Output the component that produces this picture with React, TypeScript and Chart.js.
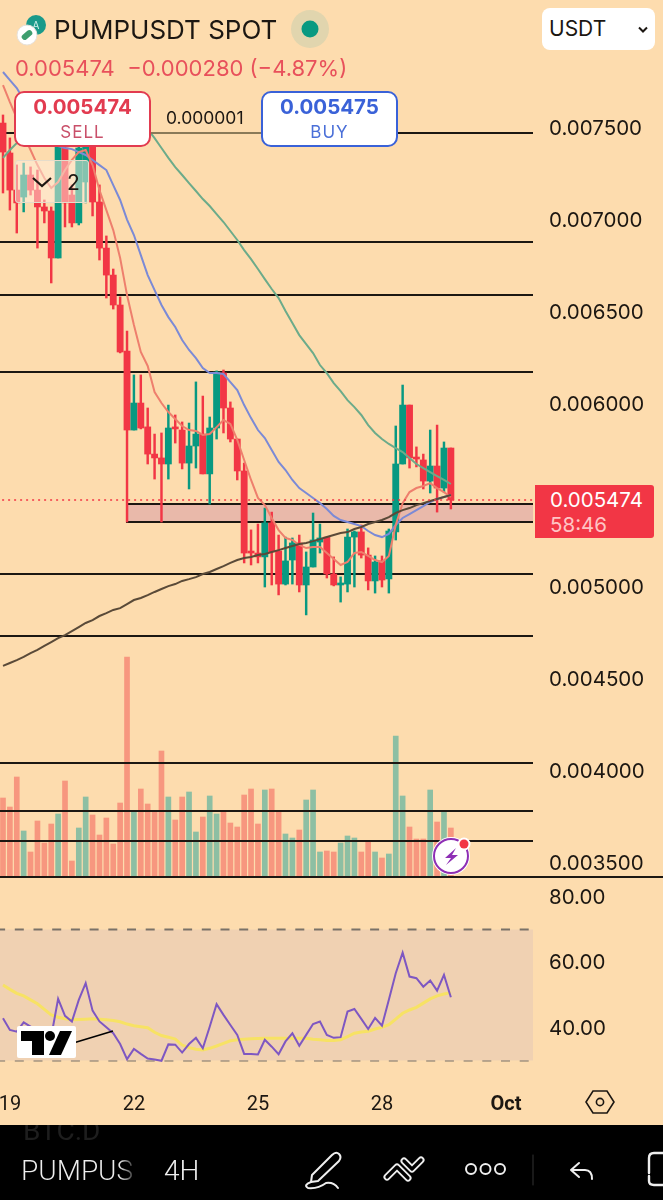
import { Chart, registerables } from "chart.js";
import { useEffect, useRef } from "react";

Chart.register(...registerables);

// prices are in millionths of a USDT (5474 = 0.005474)
const opens = [7527, 7364, 7162, 7124, 7244, 7162, 7070, 7048, 6792, 7391, 7135, 6983, 7206, 7489, 7097, 6846, 6699, 6536, 6285, 5855, 6002, 5872, 5724, 5703, 5670, 5866, 5855, 5675, 5768, 5833, 5616, 5866, 6166, 5975, 5806, 5632, 5191, 5185, 5164, 5349, 5196, 5016, 5147, 5240, 5011, 5109, 5245, 5272, 5071, 5011, 5016, 5272, 5300, 5174, 5033, 5142, 5044, 5300, 5670, 5991, 5703, 5692, 5577, 5659, 5539, 5757];
const highs = [7571, 7446, 7299, 7309, 7288, 7271, 7108, 7070, 7516, 7435, 7190, 7435, 7516, 7516, 7190, 6912, 6732, 6580, 6394, 6155, 6155, 5975, 5833, 5839, 5991, 5937, 5899, 5893, 6117, 6040, 5926, 6177, 6182, 6008, 5806, 5675, 5311, 5343, 5430, 5408, 5283, 5272, 5267, 5283, 5191, 5403, 5343, 5272, 5164, 5055, 5316, 5305, 5338, 5213, 5169, 5169, 5316, 5877, 6100, 5991, 5763, 5724, 5855, 5882, 5790, 5757];
const lows = [7146, 7053, 6928, 7043, 7135, 6846, 6983, 6656, 6792, 6961, 6961, 6972, 7092, 7021, 6781, 6574, 6514, 6275, 5354, 5855, 5861, 5670, 5588, 5354, 5588, 5784, 5643, 5534, 5648, 5616, 5452, 5806, 5839, 5790, 5583, 5131, 5120, 5131, 5000, 5011, 4957, 5011, 5016, 4973, 4848, 5109, 5185, 5049, 5006, 4918, 4973, 5000, 5158, 4984, 4967, 5000, 4967, 5256, 5670, 5648, 5654, 5534, 5512, 5408, 5517, 5425];
const closes = [7369, 7162, 7092, 7244, 7162, 7070, 7048, 6792, 7462, 7092, 6983, 7391, 7462, 7097, 6846, 6699, 6536, 6280, 5855, 6002, 5866, 5724, 5703, 5670, 5866, 5861, 5675, 5768, 5833, 5616, 5866, 6171, 5975, 5806, 5632, 5185, 5185, 5164, 5349, 5191, 5016, 5142, 5240, 5011, 5109, 5256, 5267, 5071, 5011, 5016, 5272, 5300, 5174, 5033, 5136, 5038, 5305, 5670, 5991, 5703, 5697, 5577, 5659, 5539, 5757, 5474];
const volumes = [79, 70, 100, 46, 25, 56, 34, 53, 63, 96, 16, 49, 80, 62, 42, 59, 33, 74, 220, 65, 88, 73, 65, 126, 80, 57, 80, 85, 45, 60, 81, 63, 65, 54, 50, 82, 88, 53, 87, 88, 65, 43, 39, 47, 77, 87, 25, 26, 25, 34, 41, 39, 25, 36, 25, 19, 23, 141, 81, 50, 38, 38, 87, 55, 66, 49];

const maFast = [7734, 7641, 7554, 7462, 7380, 7298, 7228, 7173, 7206, 7271, 7326, 7369, 7380, 7298, 7162, 7053, 6944, 6792, 6590, 6427, 6280, 6204, 6062, 6002, 5953, 5915, 5877, 5855, 5850, 5828, 5833, 5871, 5909, 5888, 5801, 5692, 5583, 5485, 5446, 5376, 5310, 5267, 5256, 5229, 5212, 5218, 5218, 5185, 5152, 5120, 5136, 5185, 5191, 5169, 5147, 5136, 5169, 5338, 5457, 5517, 5539, 5550, 5566, 5539, 5517, 5490];
const maMid = [7805, 7761, 7718, 7652, 7587, 7527, 7473, 7435, 7402, 7391, 7385, 7369, 7353, 7326, 7298, 7271, 7189, 7108, 7001, 6917, 6808, 6699, 6617, 6536, 6470, 6416, 6345, 6291, 6247, 6193, 6165, 6165, 6160, 6116, 6073, 5991, 5920, 5855, 5811, 5746, 5681, 5637, 5583, 5539, 5512, 5485, 5457, 5425, 5387, 5365, 5354, 5343, 5332, 5305, 5283, 5272, 5289, 5338, 5376, 5397, 5419, 5441, 5463, 5479, 5490, 5501];
const maSlow = [7337, 7380, 7418, 7445, 7478, 7500, 7516, 7533, 7543, 7554, 7554, 7554, 7554, 7554, 7554, 7554, 7554, 7549, 7543, 7533, 7516, 7494, 7445, 7391, 7337, 7287, 7244, 7200, 7157, 7113, 7075, 7031, 6988, 6939, 6890, 6835, 6786, 6732, 6677, 6623, 6574, 6503, 6438, 6372, 6323, 6274, 6209, 6165, 6111, 6067, 6018, 5980, 5937, 5882, 5839, 5806, 5779, 5757, 5735, 5702, 5670, 5648, 5626, 5604, 5583, 5561];
const maLong = [4570, 4586, 4602, 4619, 4640, 4657, 4679, 4700, 4722, 4738, 4760, 4782, 4804, 4820, 4842, 4858, 4875, 4885, 4907, 4929, 4940, 4956, 4973, 4989, 5005, 5016, 5033, 5043, 5054, 5071, 5082, 5098, 5114, 5131, 5147, 5158, 5163, 5174, 5180, 5191, 5201, 5212, 5223, 5234, 5240, 5250, 5261, 5272, 5283, 5294, 5299, 5316, 5327, 5343, 5354, 5365, 5381, 5403, 5419, 5430, 5446, 5457, 5468, 5479, 5490, 5501];

const rsi = [42.9, 39.3, 38.8, 41.6, 40.3, 38.8, 37.8, 37.3, 48.8, 43.6, 41.9, 48.5, 53.6, 45.2, 41.9, 40.1, 38.3, 35.0, 30.4, 33.5, 32.0, 30.6, 30.3, 29.9, 34.9, 34.8, 32.4, 35.0, 36.9, 33.7, 40.3, 47.2, 43.9, 40.8, 37.8, 32.0, 32.0, 31.8, 36.3, 34.2, 31.9, 35.8, 38.3, 34.5, 37.8, 41.1, 41.9, 37.8, 36.9, 37.1, 44.9, 45.7, 42.7, 39.6, 43.0, 40.6, 48.5, 56.6, 62.9, 55.6, 55.1, 52.5, 54.4, 51.3, 56.1, 49.3];
const rsiMa = [53.0, 51.7, 50.5, 49.7, 48.5, 47.3, 45.6, 43.9, 43.2, 42.7, 42.4, 42.5, 42.6, 42.7, 42.6, 42.4, 42.2, 41.8, 41.1, 40.6, 40.3, 40.0, 38.6, 37.6, 37.1, 36.5, 34.7, 33.9, 33.4, 33.2, 33.7, 34.4, 35.2, 36.0, 36.3, 36.5, 36.6, 36.7, 36.8, 36.8, 36.8, 36.8, 36.8, 36.8, 36.8, 36.5, 36.3, 36.1, 36.1, 36.3, 37.3, 38.3, 38.7, 38.9, 39.6, 40.1, 40.9, 42.6, 44.4, 45.4, 46.2, 47.5, 48.8, 49.7, 50.3, 50.7];

const levels = [7473, 6879, 6590, 6171, 5071, 4733, 4041, 3780, 3617];
const zoneTop = 5452;
const zoneBottom = 5354;
const zoneStart = 18;
const lastPrice = 5474;

const priceTicks = [3500, 4000, 4500, 5000, 5500, 6000, 6500, 7000, 7500, 8000];
const rsiTicks = [40, 60, 80];
const tickIndexes = [1, 19, 37, 55, 73];
const tickLabels = ["19", "22", "25", "28", "Oct"];

const BG = "#fddcae";
const UP = "#089981";
const DOWN = "#f23645";
const UP_VOL = "#8dbfa3";
const DOWN_VOL = "#f7977f";
const INK = "#1c1712";
const X_MIN = -0.435;
const X_MAX = 76.92;

const xy = (values: any[]) => values.map((y, x) => ({ x, y }));
const flat = (y: number) => [{ x: -1, y }, { x: 90, y }];
const candleColors = closes.map((c, i) => (c >= opens[i] ? UP : DOWN));
const volumeColors = closes.map((c, i) => (c >= opens[i] ? UP_VOL : DOWN_VOL));

const line = (data: any, color: string, width: number, order: number, extra: any = {}) => ({
    type: "line",
    data,
    borderColor: color,
    borderWidth: width,
    pointRadius: 0,
    tension: 0,
    order,
    ...extra,
});

// the scales would otherwise pad the chart area for their first and last labels
const noPadding = (s: any) => {
    s.paddingLeft = 0;
    s.paddingRight = 0;
    s.paddingTop = 0;
    s.paddingBottom = 0;
};

const zonePlugin = {
    id: "zonePlugin",
    beforeDatasetsDraw(chart: any) {
        const { ctx, chartArea, scales } = chart;
        const left = scales.x.getPixelForValue(zoneStart);
        const top = scales.y.getPixelForValue(zoneTop);
        const bottom = scales.y.getPixelForValue(zoneBottom);
        ctx.save();
        ctx.fillStyle = "#e9b9aa";
        ctx.fillRect(left, top, chartArea.right - left, bottom - top);
        ctx.strokeStyle = INK;
        ctx.lineWidth = 2;
        ctx.beginPath();
        ctx.moveTo(chartArea.right, top);
        ctx.lineTo(left, top);
        ctx.lineTo(left, bottom);
        ctx.lineTo(chartArea.right, bottom);
        ctx.stroke();
        ctx.restore();
    },
};

const yAxis = (min: number, max: number, values: number[], digits: (v: number) => string) => ({
    position: "right",
    min,
    max,
    grid: { display: false, drawTicks: false },
    border: { display: false },
    afterBuildTicks: (s: any) => { s.ticks = values.map((value) => ({ value })); },
    afterFit: (s: any) => { s.width = 130; noPadding(s); },
    ticks: {
        padding: 16,
        labelOffset: 1,
        color: INK,
        font: { family: "Inter", size: 20.5 },
        callback: digits,
    },
});

const abs = (left: number, top: number, extra: any = {}) => ({ position: "absolute", left, top, ...extra } as any);

const PriceBox = ({ left, color, soft, price, label }: any) => (
    <div style={abs(left, 91, { width: 137, height: 56, boxSizing: "border-box", background: "#fff", border: `2px solid ${color}`, borderRadius: 10, textAlign: "center", fontFamily: "Inter" })}>
        <div style={{ color, fontSize: 20.5, fontWeight: 700, lineHeight: "26px", marginTop: 1 }}>{price}</div>
        <div style={{ color: soft, fontSize: 17, lineHeight: "24px", letterSpacing: 1 }}>{label}</div>
    </div>
);

export default function App() {
    const priceRef = useRef<HTMLCanvasElement | null>(null);
    const rsiRef = useRef<HTMLCanvasElement | null>(null);

    useEffect(() => {
        if (!priceRef.current || !rsiRef.current) return;

        const priceChart = new Chart(priceRef.current, {
            type: "bar",
            data: {
                datasets: [
                    { data: xy(volumes), yAxisID: "yVol", backgroundColor: volumeColors, barThickness: 5, grouped: false, order: 8 },
                    ...levels.map((p) => line(flat(p), INK, 2, 7)),
                    { data: xy(lows.map((l, i) => [l, highs[i]])), backgroundColor: candleColors, barThickness: 1.8, grouped: false, order: 6 },
                    { data: xy(opens.map((o, i) => [o, closes[i]])), backgroundColor: candleColors, barThickness: 6.2, minBarLength: 2, grouped: false, order: 5 },
                    line(xy(maSlow), "#6cab8a", 2, 4),
                    line(xy(maMid), "#7b8ad6", 2, 3),
                    line(xy(maFast), "#ee7f6d", 2, 2),
                    line(xy(maLong), "#5a4a38", 2, 1),
                    line(flat(lastPrice), DOWN, 1.5, 0, { borderDash: [2, 4] }),
                ] as any,
            },
            options: {
                animation: false,
                responsive: false,
                events: [],
                layout: { padding: 0 },
                plugins: { legend: { display: false }, tooltip: { enabled: false } },
                scales: {
                    // offset has to go: the bar defaults would widen this linear scale
                    x: { type: "linear", offset: false, min: X_MIN, max: X_MAX, display: false, afterFit: noPadding },
                    y: yAxis(3420.5, 8197.2, priceTicks, (v: any) => (v / 1e6).toFixed(6)),
                    yVol: { display: false, position: "right", min: 0, max: 877, afterFit: (s: any) => { s.width = 0; noPadding(s); } },
                },
            } as any,
            plugins: [zonePlugin],
        });

        const rsiChart = new Chart(rsiRef.current, {
            type: "line",
            data: {
                datasets: [
                    line(flat(70), "#7a7268", 2, 4, { borderDash: [9, 9.7], fill: { target: { value: 30 } }, backgroundColor: "#f0d1b2" }),
                    line(flat(50), "#b3a491", 2, 4, { borderDash: [9, 9.7] }),
                    line(flat(30), "#7a7268", 2, 4, { borderDash: [9, 9.7] }),
                    line(xy(rsiMa), "#f7e264", 3, 2),
                    line(xy(rsi), "#7e57c2", 2, 1),
                ] as any,
            },
            options: {
                animation: false,
                responsive: false,
                events: [],
                layout: { padding: 0 },
                plugins: { legend: { display: false }, tooltip: { enabled: false } },
                scales: {
                    x: {
                        type: "linear",
                        min: X_MIN,
                        max: X_MAX,
                        grid: { display: false, drawTicks: false },
                        border: { display: false },
                        afterFit: (s: any) => { s.height = 40; noPadding(s); },
                        afterBuildTicks: (s: any) => { s.ticks = tickIndexes.map((value) => ({ value })); },
                        ticks: {
                            autoSkip: false,
                            maxRotation: 0,
                            padding: 8,
                            color: INK,
                            font: (ctx: any) => ({ family: "Roboto", size: 20, weight: ctx.tick && ctx.tick.value === 73 ? "bold" : "normal" }),
                            callback: (v: any) => tickLabels[tickIndexes.indexOf(v)],
                        },
                    },
                    y: yAxis(22.5, 86, rsiTicks, (v: any) => v.toFixed(2)),
                },
            } as any,
        });

        return () => {
            priceChart.destroy();
            rsiChart.destroy();
        };
    }, []);

    return (
        <div style={abs(0, 0, { width: 663, height: 1200, overflow: "hidden", background: BG, fontFamily: "Inter", color: INK })}>
            <canvas ref={priceRef} width={663} height={877} style={abs(0, 0, { width: 663, height: 877 })} />
            <canvas ref={rsiRef} width={663} height={248} style={abs(0, 877, { width: 663, height: 248 })} />

            <div style={abs(0, 876, { width: 663, height: 2, background: INK })} />
            <div style={abs(151, 132, { width: 110, height: 2, background: "#8a7a58" })} />

            {/* header */}
            <svg width={60} height={50} style={abs(10, 8)}>
                <circle cx={26} cy={17} r={10} fill="#1a9a8a" />
                <text x={26} y={21} fontSize={10} fill="#cdeee8" textAnchor="middle" fontFamily="Inter">A</text>
                <circle cx={17} cy={27} r={10} fill="#fff" stroke="#e6e0da" />
                <rect x={11} y={24} width={12} height={6} rx={3} fill="#3e9e6e" transform="rotate(-40 17 27)" />
            </svg>
            <div style={abs(54, 13, { fontSize: 26, lineHeight: "34px", whiteSpace: "nowrap" })}>PUMPUSDT SPOT</div>
            <svg width={40} height={40} style={abs(290, 9)}>
                <circle cx={20} cy={20} r={19} fill="#e1d5ae" />
                <circle cx={20} cy={20} r={8.5} fill={UP} />
            </svg>
            <div style={abs(15, 54, { fontSize: 22, lineHeight: "28px", color: "#e8505b", whiteSpace: "pre" })}>0.005474  −0.000280 (−4.87%)</div>

            <PriceBox left={14} color="#e23b50" soft="#c9506a" price="0.005474" label="SELL" />
            <PriceBox left={261} color="#3a62d8" soft="#4a6fd8" price="0.005475" label="BUY" />
            <div style={abs(166, 108, { fontSize: 17.5, lineHeight: "20px" })}>0.000001</div>

            <div style={abs(15, 160, { width: 74, height: 43, boxSizing: "border-box", background: "rgba(255,238,222,0.5)", border: "1.5px solid #e5dccb", borderRadius: 3 })} />
            <svg width={24} height={14} style={abs(30, 175)}>
                <path d="M3 3 L12 11 L21 3" fill="none" stroke={INK} strokeWidth={2.2} />
            </svg>
            <div style={abs(67, 170, { fontSize: 21, lineHeight: "26px" })}>2</div>

            <div style={abs(542, 8, { width: 113, height: 42, boxSizing: "border-box", background: "#fff", borderRadius: 8, padding: "7px 0 0 7px", fontSize: 21, lineHeight: "28px" })}>USDT</div>
            <svg width={12} height={8} style={abs(637, 26)}>
                <path d="M2 1.5 L6 5.5 L10 1.5" fill="none" stroke={INK} strokeWidth={2} />
            </svg>

            {/* last price tag */}
            <div style={abs(535, 485, { width: 119, height: 53, background: DOWN, borderRadius: "0 3px 3px 0", paddingLeft: 15, boxSizing: "border-box" })}>
                <div style={{ color: "#fff", fontSize: 20.5, lineHeight: "26px", marginTop: 2 }}>0.005474</div>
                <div style={{ color: "#ffc4c4", fontSize: 20.5, lineHeight: "24px" }}>58:46</div>
            </div>

            {/* bolt badge */}
            <svg width={44} height={44} style={abs(430, 834)}>
                <circle cx={21} cy={22} r={19} fill="#fff" />
                <circle cx={21} cy={22} r={17} fill="#fff" stroke="#8e2fb5" strokeWidth={2} />
                <path d="M26 14 L15 24 L21 24 L16 31 L28 21 L22 21 Z" fill="#8e2fb5" />
                <circle cx={34} cy={10} r={6.5} fill="#fff" />
                <circle cx={34} cy={10} r={4.5} fill={DOWN} />
            </svg>

            {/* watermark */}
            <svg width={110} height={40} style={abs(14, 1024)}>
                <path d="M56 20 L99 7" stroke="#000" strokeWidth={1.6} />
                <rect x={3} y={2} width={59} height={32} rx={2} fill="#fff" />
                <path d="M7 7 H30 V31 H18 V17 H7 Z" fill="#000" />
                <circle cx={36} cy={12} r={5} fill="#000" />
                <path d="M46 7 H58 L47 31 H35 Z" fill="#000" />
            </svg>

            <svg width={32} height={28} style={abs(584, 1088)}>
                <path d="M9 3 H23 L30 14 L23 25 H9 L2 14 Z" fill="none" stroke={INK} strokeWidth={1.6} />
                <circle cx={16} cy={14} r={3.6} fill="none" stroke={INK} strokeWidth={1.6} />
            </svg>

            {/* bottom bar */}
            <div style={abs(0, 1125, { width: 663, height: 75, background: "#000", overflow: "hidden" })}>
                <div style={abs(23, -11, { fontFamily: "Roboto", fontSize: 28, lineHeight: "34px", color: "#1e1e1e" })}>BTC.D</div>
                <div style={abs(21, 29, { width: 114, overflow: "hidden", fontFamily: "Roboto", fontWeight: 300, fontSize: 28, lineHeight: "34px", whiteSpace: "nowrap", background: "linear-gradient(90deg,#eee 86%,#222 100%)", WebkitBackgroundClip: "text", backgroundClip: "text", color: "transparent" })}>PUMPUSDT</div>
                <div style={abs(164, 29, { fontFamily: "Roboto", fontWeight: 300, fontSize: 28, lineHeight: "34px", color: "#eee" })}>4H</div>
            </div>
            <svg width={663} height={75} style={abs(0, 1125)} fill="none" stroke="#eee" strokeWidth={2} strokeLinecap="round" strokeLinejoin="round">
                <path d="M332 30 Q336 26 339 29 Q342 32 339 36 L318 56 L311 57 L312 50 Z" />
                <path d="M311 57 Q303 60 308 63 Q318 64 326 58 Q334 57 338 63" />
                <path d="M387 52 L397 42 L408 53" strokeWidth={7} />
                <path d="M387 52 L397 42 L408 53" strokeWidth={3.2} stroke="#000" />
                <path d="M404 36 L412 44 L421 35" strokeWidth={7} />
                <path d="M404 36 L412 44 L421 35" strokeWidth={3.2} stroke="#000" />
                <circle cx={471} cy={44} r={5} />
                <circle cx={485.5} cy={44} r={5} />
                <circle cx={500} cy={44} r={5} />
                <path d="M533 30 V60" stroke="#333" strokeWidth={1} />
                <path d="M579 38 L571 45 L579 52 M571 45 H585 Q592 45 592 54" />
                <path d="M663 28 H654 Q649 28 649 33 V48 M649 51 V56 Q649 60 654 60 H663" strokeWidth={2.4} />
            </svg>
        </div>
    );
}
